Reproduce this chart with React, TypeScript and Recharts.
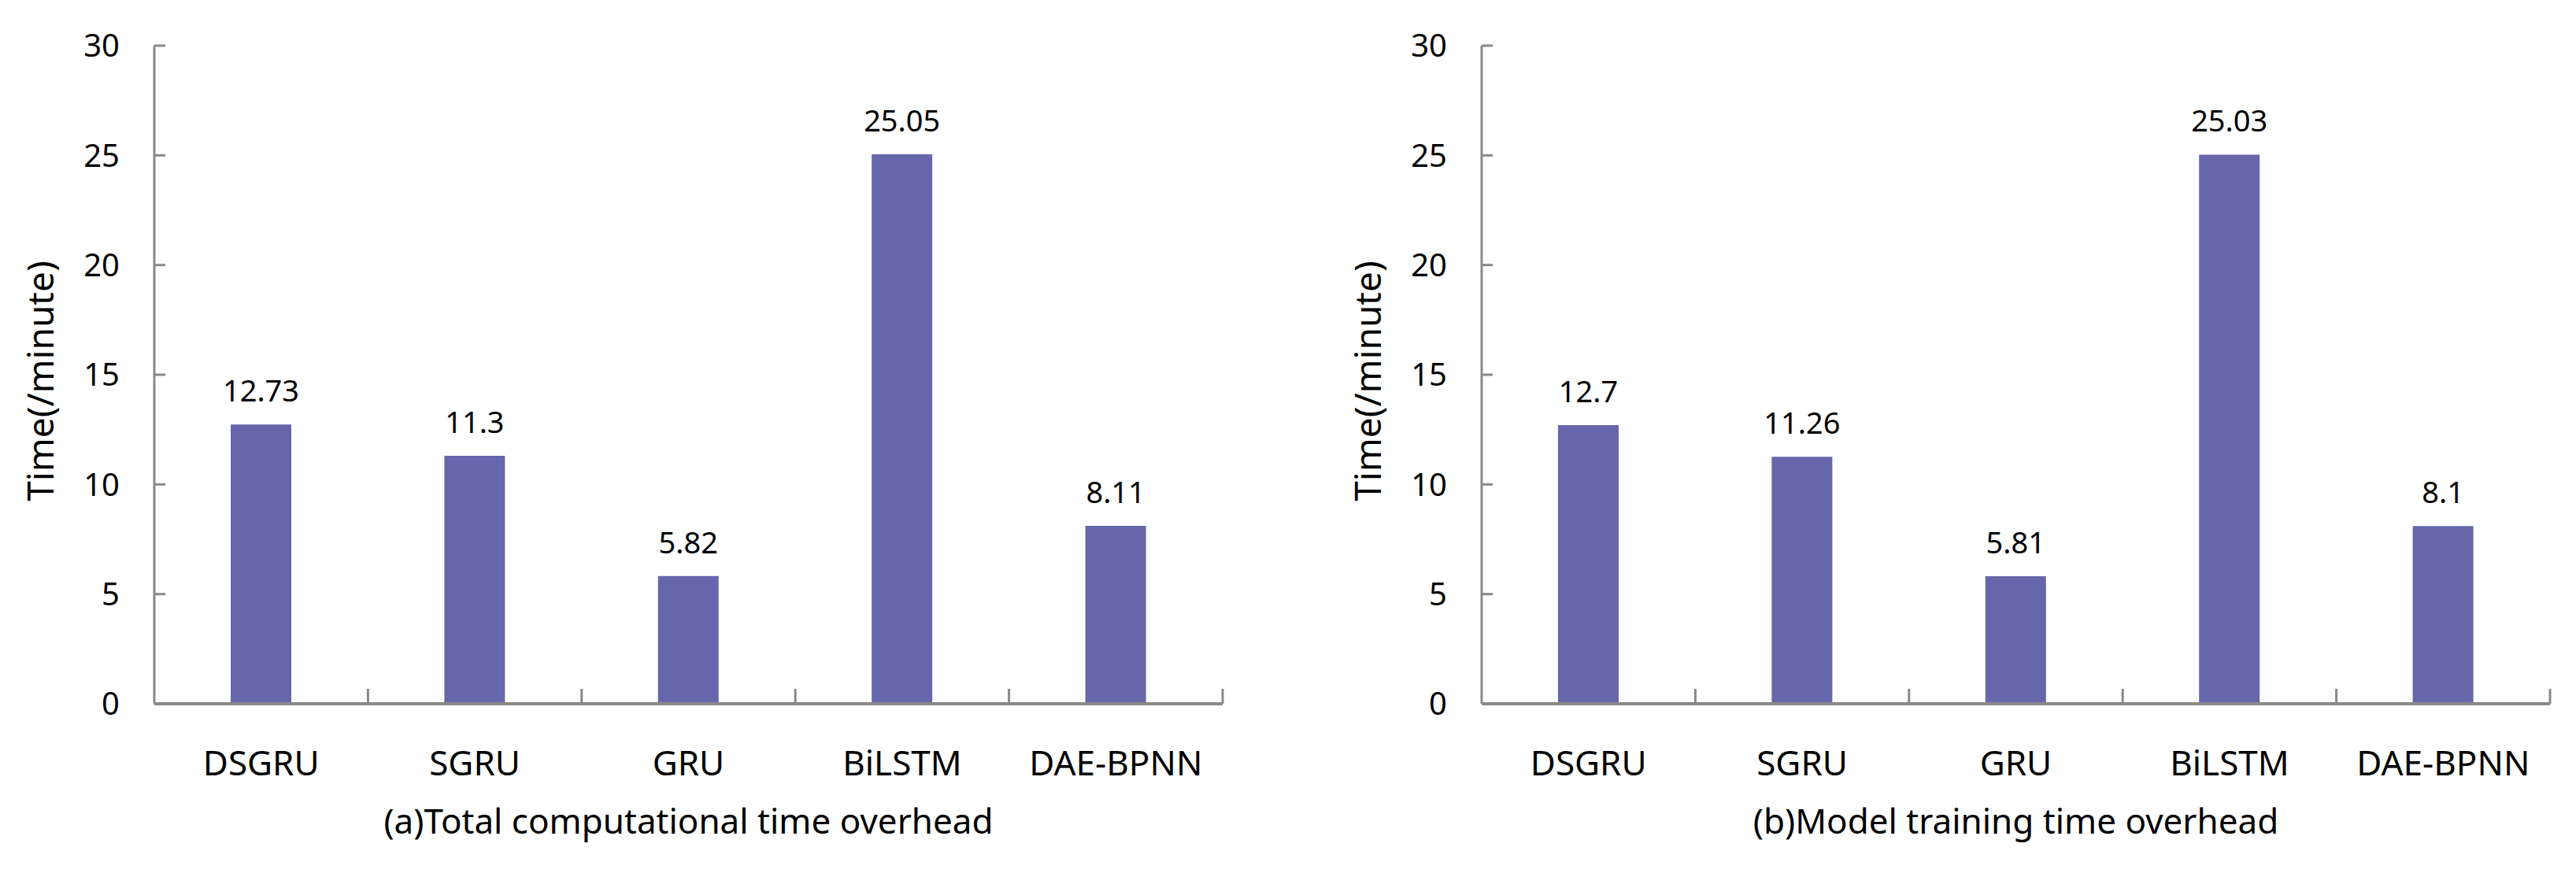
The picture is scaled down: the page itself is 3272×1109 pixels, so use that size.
import React from 'react';
import { BarChart, Bar, XAxis, YAxis, LabelList } from 'recharts';

// model names on the x axis
const categories = ['DSGRU', 'SGRU', 'GRU', 'BiLSTM', 'DAE-BPNN'];
// (a) total computational time, minutes
const totalTime = [12.73, 11.3, 5.82, 25.05, 8.11];
// (b) model training time, minutes
const trainTime = [12.7, 11.26, 5.81, 25.03, 8.1];
const yTicks = [0, 5, 10, 15, 20, 25, 30];

const AXIS = '#898989';
const BAR = '#6667ab';
const FONT = '"Noto Sans", "DejaVu Sans", sans-serif';

const CHART_W = 1628;
const CHART_H = 1093;

// y ticks point into the plot, labels sit to the left
const YTick = (props: any) => {
  const { x, y, payload } = props;
  return (
    <g>
      <line x1={x} y1={y} x2={x + 14} y2={y} stroke={AXIS} strokeWidth={3} />
      <text x={x - 44} y={y} dy="0.36em" textAnchor="end" fontSize={40} fill="#000" fontFamily={FONT}>
        {payload.value}
      </text>
    </g>
  );
};

// x ticks sit on the category boundaries and point up
const XTick = (props: any) => {
  const { x, y, payload, width } = props;
  const half = payload.offset ?? (width ? width / 10 : 135);
  return (
    <g>
      <line x1={x + half} y1={y} x2={x + half} y2={y - 19} stroke={AXIS} strokeWidth={3} />
      <text x={x} y={y + 75} dy="0.36em" textAnchor="middle" fontSize={44} fill="#000" fontFamily={FONT}>
        {payload.value}
      </text>
    </g>
  );
};

const Panel = ({ values, title, yWidth, right, labelDx }: any) => {
  const data = categories.map((name, i) => ({ name, value: values[i] }));
  return (
    <BarChart
      width={CHART_W}
      height={CHART_H}
      data={data}
      margin={{ top: 50, right, bottom: 0, left: 0 }}
    >
      <YAxis
        width={yWidth}
        domain={[0, 30]}
        ticks={yTicks}
        interval={0}
        tickSize={0}
        tickMargin={0}
        tickLine={false}
        axisLine={{ stroke: AXIS, strokeWidth: 3 }}
        tick={<YTick />}
        label={{
          value: 'Time(/minute)',
          angle: -90,
          position: 'center',
          dx: labelDx,
          dy: 8,
          style: { fontSize: 46, fill: '#000', fontFamily: FONT },
        }}
      />
      <XAxis
        dataKey="name"
        height={CHART_H - 886}
        interval={0}
        tickSize={0}
        tickMargin={0}
        tickLine={false}
        axisLine={{ stroke: AXIS, strokeWidth: 4 }}
        tick={<XTick />}
        label={{
          value: title,
          position: 'insideBottom',
          offset: 42,
          style: { fontSize: 44, fill: '#000', fontFamily: FONT },
        }}
      />
      <Bar dataKey="value" fill={BAR} barSize={77} isAnimationActive={false}>
        <LabelList
          dataKey="value"
          position="top"
          offset={29}
          style={{ fontSize: 38, fill: '#000', fontFamily: FONT }}
        />
      </Bar>
    </BarChart>
  );
};

export default function App() {
  return (
    <div style={{ display: 'flex', width: CHART_W * 2, height: CHART_H, background: '#fff' }}>
      <Panel values={totalTime} title="(a)Total computational time overhead" yWidth={188} right={83} labelDx={-50} />
      <Panel values={trainTime} title="(b)Model training time overhead" yWidth={246} right={25} labelDx={-21} />
    </div>
  );
}
